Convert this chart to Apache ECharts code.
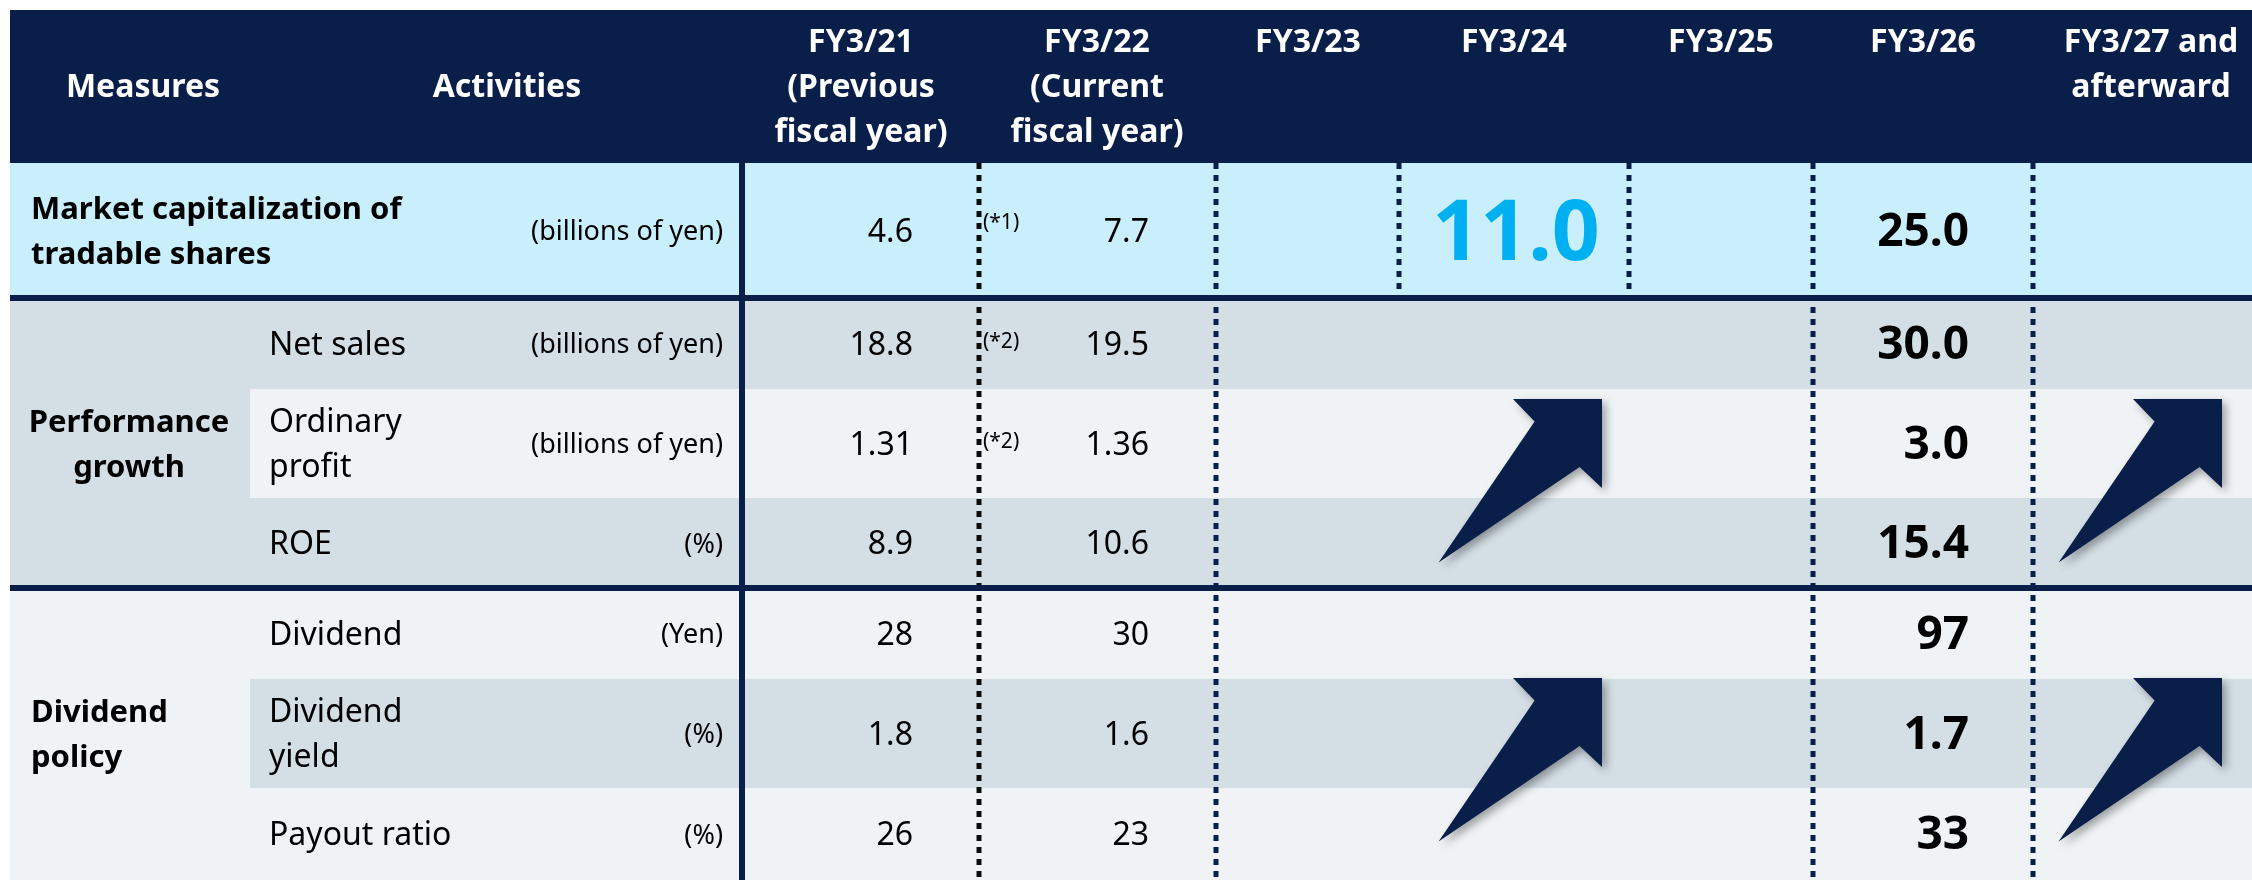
<!DOCTYPE html>
<html>
<head>
<meta charset="utf-8">
<script src="https://cdn.jsdelivr.net/npm/echarts@6/dist/echarts.min.js"></script>
<style>
  html, body { margin: 0; padding: 0; background: #ffffff; }
  #chart { width: 2252px; height: 880px; }
</style>
</head>
<body>
<div id="chart"></div>
<script>
// ---- table content ----
const headers = ['Measures', 'Activities', 'FY3/21\n(Previous\nfiscal year)', 'FY3/22\n(Current\nfiscal year)',
  'FY3/23', 'FY3/24', 'FY3/25', 'FY3/26', 'FY3/27 and\nafterward']
const measures = ['Market capitalization of\ntradable shares', 'Performance\ngrowth', 'Dividend\npolicy']
const rowGroup = [0, 1, 1, 1, 2, 2, 2]
const activities = ['', 'Net sales', 'Ordinary\nprofit', 'ROE', 'Dividend', 'Dividend\nyield', 'Payout ratio']
const units = ['(billions of yen)', '(billions of yen)', '(billions of yen)', '(%)', '(Yen)', '(%)', '(%)']
const fy21 = ['4.6', '18.8', '1.31', '8.9', '28', '1.8', '26']
const fy22 = ['7.7', '19.5', '1.36', '10.6', '30', '1.6', '23']
const fy22Notes = ['(*1)', '(*2)', '(*2)', '', '', '', '']
const fy24Target = ['11.0']
const fy26Target = ['25.0', '30.0', '3.0', '15.4', '97', '1.7', '33']
const growthGroups = [1, 2] // groups that get the "rising" arrows

// ---- layout (canvas units) ----
const W = 2252
const H = 880
const TABLE_LEFT = 10
const TABLE_TOP = 10
const SUB_LEFT = 250
const ROW_EDGES = [163, 298, 389, 498, 588, 679, 788, 880]
const COL_EDGES = [10, 250, 742, 979, 1216, 1399, 1629, 1813, 2033, 2252]
const HEADER_X = [143, 507, 861, 1097, 1308, 1514, 1721, 1923, 2151]
const ARROW_RIGHT = [1602, 2222]
const ARROW_TOP = { 1: 399, 2: 678 }
const ARROW_SHAPE = [[-163.4, 163.4], [-67.4, 22.4], [-89, 0], [0, 0], [0, 89], [-22.4, 68]]

const NAVY = '#0a1e4a'
const ROW_FILL = ['#c9eefc', '#d3dee5', '#eff3f6', '#d3dee5', '#eff3f6', '#d3dee5', '#eff3f6']
const GROUP_FILL = ['#c9eefc', '#d3dee5', '#eff3f6']
const FAMILY = '"Noto Sans", sans-serif'
const font = (size, bold) => (bold ? 'bold ' : '') + size + 'px ' + FAMILY

const rowMid = i => (ROW_EDGES[i] + ROW_EDGES[i + 1]) / 2 + 2
const rowsOf = g => rowGroup.map((gg, i) => (gg === g ? i : -1)).filter(i => i >= 0)

// backgrounds
const rects = [{ x0: TABLE_LEFT, y0: TABLE_TOP, x1: W, y1: ROW_EDGES[0], fill: NAVY }]
rowGroup.forEach((g, i) => {
  rects.push({ x0: SUB_LEFT, y0: ROW_EDGES[i], x1: W, y1: ROW_EDGES[i + 1], fill: ROW_FILL[i] })
})
measures.forEach((m, g) => {
  const rows = rowsOf(g)
  rects.push({ x0: TABLE_LEFT, y0: ROW_EDGES[rows[0]], x1: SUB_LEFT, y1: ROW_EDGES[rows[rows.length - 1] + 1], fill: GROUP_FILL[g] })
})

// rules
const lines = []
lines.push({ x0: COL_EDGES[2], y0: ROW_EDGES[0], x1: COL_EDGES[2], y1: H, stroke: NAVY, width: 6 })
lines.push({ x0: COL_EDGES[3], y0: ROW_EDGES[0], x1: COL_EDGES[3], y1: H, stroke: '#0d0d0d', width: 5, dash: [6, 6] })
;[4, 7, 8].forEach(c => lines.push({ x0: COL_EDGES[c], y0: ROW_EDGES[0], x1: COL_EDGES[c], y1: H, stroke: NAVY, width: 5, dash: [6, 6] }))
;[5, 6].forEach(c => lines.push({ x0: COL_EDGES[c], y0: ROW_EDGES[0], x1: COL_EDGES[c], y1: ROW_EDGES[1], stroke: NAVY, width: 5, dash: [6, 6] }))
measures.forEach((m, g) => {
  if (g === 0) return
  const y = ROW_EDGES[rowsOf(g)[0]]
  lines.push({ x0: TABLE_LEFT, y0: y, x1: W, y1: y, stroke: NAVY, width: 6 })
})

// texts
const texts = []
headers.forEach((h, c) => {
  const mid = c < 2
  texts.push({ x: HEADER_X[c], y: mid ? 88 : 20.5, text: h, font: font(32, true), fill: '#ffffff', align: 'center', va: mid ? 'middle' : 'top', lh: 45 })
})
measures.forEach((m, g) => {
  const rows = rowsOf(g)
  const y = rowMid(rows[Math.floor(rows.length / 2)])
  const centered = g === 1
  texts.push({ x: centered ? 129 : 31, y: y, text: m, font: font(31, true), fill: '#000000', align: centered ? 'center' : 'left', va: 'middle', lh: 45 })
})
rowGroup.forEach((g, i) => {
  const y = rowMid(i)
  if (activities[i]) texts.push({ x: 269, y: y, text: activities[i], font: font(32), fill: '#000000', align: 'left', va: 'middle', lh: 45 })
  texts.push({ x: 723, y: y, text: units[i], font: font(27), fill: '#000000', align: 'right', va: 'middle', lh: 30 })
  texts.push({ x: 913, y: y, text: fy21[i], font: font(32), fill: '#000000', align: 'right', va: 'middle', lh: 40 })
  texts.push({ x: 1149, y: y, text: fy22[i], font: font(32), fill: '#000000', align: 'right', va: 'middle', lh: 40 })
  if (fy22Notes[i]) texts.push({ x: 983, y: y - (i === 0 ? 9 : 3), text: fy22Notes[i], font: font(21), fill: '#000000', align: 'left', va: 'middle', lh: 24 })
  texts.push({ x: 1969, y: y, text: fy26Target[i], font: font(46, true), fill: '#000000', align: 'right', va: 'middle', lh: 50 })
})
fy24Target.forEach((v, i) => {
  texts.push({ x: 1516, y: rowMid(i) + 4, text: v, font: font(84, true), fill: '#00b0f0', align: 'center', va: 'middle', lh: 90 })
})

// arrows
const arrows = []
growthGroups.forEach(g => {
  ARROW_RIGHT.forEach(x => arrows.push({ x: x, y: ARROW_TOP[g] }))
})

function layer (items, z, build) {
  return {
    type: 'custom',
    coordinateSystem: 'cartesian2d',
    silent: true,
    animation: false,
    z: z,
    data: items.map((it, i) => [i]),
    encode: { x: [], y: [] },
    renderItem: (params, api) => build(items[params.dataIndex], api)
  }
}

const chart = echarts.init(document.getElementById('chart'), null, { renderer: 'canvas' })

const option = {
  backgroundColor: '#ffffff',
  animation: false,
  grid: { left: 0, right: 0, top: 0, bottom: 0 },
  xAxis: { type: 'value', min: 0, max: W, show: false },
  yAxis: { type: 'value', min: 0, max: H, inverse: true, show: false },
  series: [
    layer(rects, 1, (r, api) => {
      const a = api.coord([r.x0, r.y0])
      const b = api.coord([r.x1, r.y1])
      return { type: 'rect', shape: { x: a[0], y: a[1], width: b[0] - a[0], height: b[1] - a[1] }, style: { fill: r.fill } }
    }),
    layer(lines, 2, (l, api) => {
      const a = api.coord([l.x0, l.y0])
      const b = api.coord([l.x1, l.y1])
      return {
        type: 'line',
        shape: { x1: a[0], y1: a[1], x2: b[0], y2: b[1] },
        style: { stroke: l.stroke, lineWidth: l.width, lineDash: l.dash || null }
      }
    }),
    layer(arrows, 3, (ar, api) => ({
      type: 'polygon',
      shape: { points: ARROW_SHAPE.map(p => api.coord([ar.x + p[0], ar.y + p[1]])) },
      style: { fill: NAVY, shadowBlur: 8, shadowOffsetX: 4, shadowOffsetY: 4, shadowColor: 'rgba(0,0,0,0.35)' }
    })),
    layer(texts, 4, (t, api) => {
      const p = api.coord([t.x, t.y])
      return {
        type: 'text',
        style: { text: t.text, x: p[0], y: p[1], font: t.font, fill: t.fill, align: t.align, verticalAlign: t.va, lineHeight: t.lh }
      }
    })
  ]
}

chart.setOption(option, true)
</script>
</body>
</html>
